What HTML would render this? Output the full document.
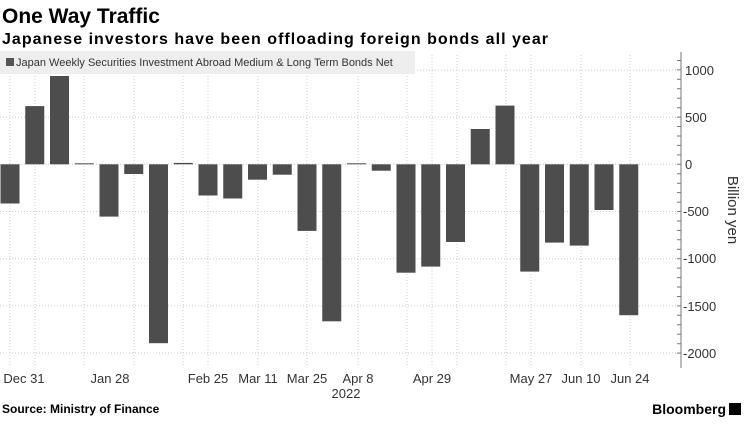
<!DOCTYPE html>
<html><head><style>
body{margin:0;width:745px;height:419px;background:#fff;overflow:hidden;font-family:"Liberation Sans",sans-serif;}
</style></head><body>
<svg width="745" height="419" xmlns="http://www.w3.org/2000/svg" font-family="Liberation Sans, sans-serif">
<text x="2" y="23" font-size="21" font-weight="bold" fill="#000">One Way Traffic</text>
<text x="2" y="44" font-size="16" font-weight="bold" fill="#000" textLength="546">Japanese investors have been offloading foreign bonds all year</text>
<g stroke="#ccc" stroke-dasharray="1,2" stroke-width="1">
<line x1="0" x2="681" y1="70" y2="70"/><line x1="0" x2="681" y1="117.2" y2="117.2"/><line x1="0" x2="681" y1="164.3" y2="164.3"/>
<line x1="0" x2="681" y1="211.5" y2="211.5"/><line x1="0" x2="681" y1="258.7" y2="258.7"/><line x1="0" x2="681" y1="305.9" y2="305.9"/><line x1="0" x2="681" y1="353" y2="353"/>
<line x1="10" x2="10" y1="55" y2="365"/><line x1="35" x2="35" y1="55" y2="365"/><line x1="84" x2="84" y1="55" y2="365"/><line x1="134" x2="134" y1="55" y2="365"/><line x1="183" x2="183" y1="55" y2="365"/><line x1="208" x2="208" y1="55" y2="365"/><line x1="258" x2="258" y1="55" y2="365"/><line x1="307" x2="307" y1="55" y2="365"/><line x1="358" x2="358" y1="55" y2="365"/><line x1="407" x2="407" y1="55" y2="365"/><line x1="432" x2="432" y1="55" y2="365"/><line x1="457" x2="457" y1="55" y2="365"/><line x1="506" x2="506" y1="55" y2="365"/><line x1="531" x2="531" y1="55" y2="365"/><line x1="581" x2="581" y1="55" y2="365"/><line x1="630" x2="630" y1="55" y2="365"/>
</g>
<rect x="0" y="51" width="415" height="23" fill="#eeeeee"/>
<rect x="6" y="58" width="8" height="8" fill="#555"/>
<text x="16" y="66" font-size="11" fill="#333">Japan Weekly Securities Investment Abroad Medium &amp; Long Term Bonds Net</text>
<g fill="#4d4d4d">
<rect x="0.5" y="164.3" width="19" height="39.2"/>
<rect x="25.25" y="106.1" width="19" height="58.2"/>
<rect x="50" y="76" width="19" height="88.3"/>
<rect x="74.75" y="163.3" width="19" height="1"/>
<rect x="99.5" y="164.3" width="19" height="52.3"/>
<rect x="124.25" y="164.3" width="19" height="9.7"/>
<rect x="149" y="164.3" width="19" height="178.9"/>
<rect x="173.75" y="162.9" width="19" height="1.4"/>
<rect x="198.5" y="164.3" width="19" height="31.2"/>
<rect x="223.25" y="164.3" width="19" height="34.2"/>
<rect x="248" y="164.3" width="19" height="15.4"/>
<rect x="272.75" y="164.3" width="19" height="10.4"/>
<rect x="297.5" y="164.3" width="19" height="66.6"/>
<rect x="322.25" y="164.3" width="19" height="157"/>
<rect x="347" y="163.3" width="19" height="1"/>
<rect x="371.75" y="164.3" width="19" height="6.4"/>
<rect x="396.5" y="164.3" width="19" height="108.4"/>
<rect x="421.25" y="164.3" width="19" height="102.3"/>
<rect x="446" y="164.3" width="19" height="77.7"/>
<rect x="470.75" y="129" width="19" height="35.3"/>
<rect x="495.5" y="105.6" width="19" height="58.7"/>
<rect x="520.25" y="164.3" width="19" height="107.3"/>
<rect x="545" y="164.3" width="19" height="78.3"/>
<rect x="569.75" y="164.3" width="19" height="81.3"/>
<rect x="594.5" y="164.3" width="19" height="45.7"/>
<rect x="619.25" y="164.3" width="19" height="150.9"/>
</g>
<line x1="681" x2="681" y1="52" y2="368" stroke="#777"/>
<path stroke="#777" d="M677 60.5h4M677 69.9h4M677 79.3h4M677 88.8h4M677 98.2h4M677 107.7h4M677 117.1h4M677 126.5h4M677 136h4M677 145.4h4M677 154.9h4M677 164.3h4M677 173.7h4M677 183.2h4M677 192.6h4M677 202.1h4M677 211.5h4M677 221h4M677 230.4h4M677 239.8h4M677 249.3h4M677 258.7h4M677 268.1h4M677 277.6h4M677 287h4M677 296.5h4M677 305.9h4M677 315.3h4M677 324.8h4M677 334.2h4M677 343.7h4M677 353.1h4"/>
<g font-size="13" fill="#333">
<text x="685" y="75">1000</text><text x="685" y="122">500</text><text x="685" y="169">0</text>
<text x="683" y="216">-500</text><text x="683" y="263">-1000</text><text x="683" y="311">-1500</text><text x="683" y="358">-2000</text>
</g>
<text transform="translate(728,210) rotate(90)" text-anchor="middle" font-size="15" fill="#333">Billion yen</text>
<g font-size="13" fill="#333" text-anchor="middle">
<text x="24" y="383">Dec 31</text><text x="110" y="383">Jan 28</text><text x="208" y="383">Feb 25</text><text x="258" y="383">Mar 11</text><text x="307" y="383">Mar 25</text><text x="358" y="383">Apr 8</text><text x="346" y="398">2022</text><text x="432" y="383">Apr 29</text><text x="531" y="383">May 27</text><text x="581" y="383">Jun 10</text><text x="630" y="383">Jun 24</text>
</g>
<text x="2" y="413" font-size="12" font-weight="bold" fill="#000">Source: Ministry of Finance</text>
<text x="726" y="414" font-size="14" font-weight="bold" fill="#000" text-anchor="end">Bloomberg</text>
<rect x="729" y="403" width="12" height="12" fill="#000"/>
</svg>
</body></html>
